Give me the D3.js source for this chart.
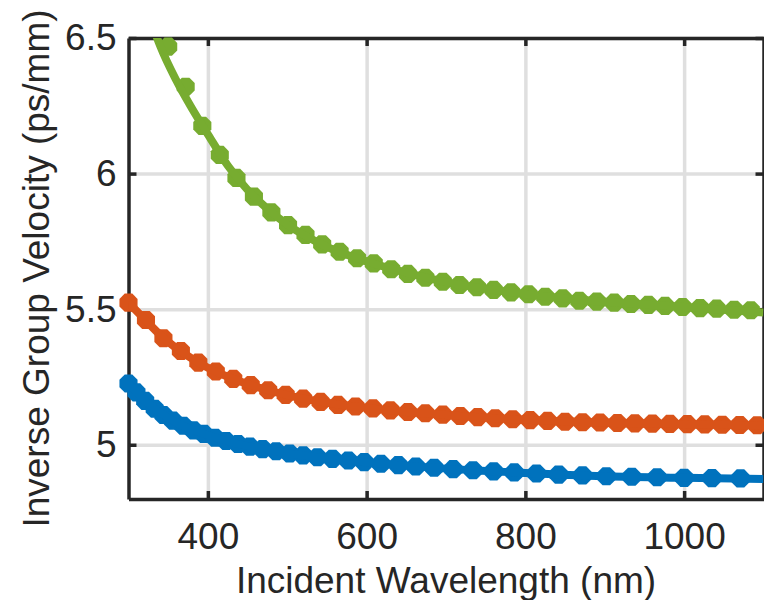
<!DOCTYPE html>
<html>
<head>
<meta charset="utf-8">
<script src="https://cdn.jsdelivr.net/npm/d3@7"></script>
<style>
  html, body { margin: 0; padding: 0; background: #ffffff; }
  svg { display: block; }
  text { font-family: "Liberation Sans", Arial, Helvetica, sans-serif; fill: #262626; }
</style>
</head>
<body>
<svg id="chart" width="764" height="600"></svg>
<script>
// Measured samples: wavelength (nm) and inverse group velocity (ps/mm)
const blueWavelength = [300, 310, 321, 333, 344, 356, 369, 382, 395, 409, 423, 438, 453, 469, 486, 503, 520, 538, 557, 577,
  597, 618, 640, 662, 685, 709, 734, 760, 786, 814, 842, 872, 902, 934, 966, 1000, 1035, 1071];
const blueValues = [5.226, 5.193, 5.162, 5.133, 5.110, 5.089, 5.070, 5.053, 5.040, 5.026, 5.014, 5.003, 4.993, 4.984, 4.976, 4.968, 4.961, 4.954, 4.948, 4.942,
  4.936, 4.930, 4.925, 4.920, 4.915, 4.910, 4.906, 4.902, 4.898, 4.894, 4.890, 4.887, 4.884, 4.882, 4.880, 4.878, 4.877, 4.876];

const orangeWavelength = [300, 322, 344, 366, 388, 410, 432, 454, 476, 498, 520, 542, 564, 586, 608, 630, 652, 674, 696, 718,
  740, 762, 784, 806, 828, 850, 872, 894, 916, 938, 960, 982, 1004, 1026, 1048, 1070, 1092];
const orangeValues = [5.524, 5.460, 5.393, 5.346, 5.303, 5.270, 5.243, 5.220, 5.201, 5.184, 5.170, 5.158, 5.147, 5.141, 5.134, 5.127, 5.121, 5.116, 5.111, 5.106,
  5.102, 5.098, 5.094, 5.091, 5.088, 5.085, 5.083, 5.082, 5.080, 5.079, 5.078, 5.077, 5.076, 5.075, 5.074, 5.073, 5.072];

const greenWavelength = [350, 372, 393, 415, 436, 458, 480, 501, 523, 544, 566, 588, 609, 631, 652, 674, 696, 717, 739, 760,
  782, 804, 825, 847, 868, 890, 912, 933, 955, 976, 998, 1020, 1041, 1063, 1084];
const greenValues = [6.468, 6.320, 6.176, 6.069, 5.984, 5.915, 5.857, 5.810, 5.774, 5.739, 5.712, 5.688, 5.669, 5.647, 5.630, 5.616, 5.601, 5.589, 5.581, 5.571,
  5.562, 5.555, 5.546, 5.540, 5.531, 5.528, 5.524, 5.519, 5.516, 5.512, 5.508, 5.504, 5.502, 5.498, 5.496];

// Fitted dispersion curves
const fitWavelength = [300, 320, 340, 360, 380, 400, 425, 450, 475, 500, 550, 600, 650, 700, 800, 900, 1000, 1100];
const blueFit   = [5.226, 5.165, 5.118, 5.082, 5.056, 5.036, 5.013, 4.995, 4.981, 4.969, 4.950, 4.935, 4.923, 4.912, 4.896, 4.884, 4.878, 4.874];
const orangeFit = [5.524, 5.464, 5.405, 5.357, 5.318, 5.284, 5.251, 5.224, 5.202, 5.183, 5.155, 5.136, 5.121, 5.110, 5.092, 5.081, 5.076, 5.071];
const greenFit  = [6.850, 6.640, 6.470, 6.345, 6.240, 6.145, 6.030, 5.940, 5.870, 5.812, 5.730, 5.676, 5.635, 5.600, 5.556, 5.527, 5.508, 5.488];

const xTicks = [400, 600, 800, 1000];
const xTickLabels = ["400", "600", "800", "1000"];
const yTicks = [5, 5.5, 6, 6.5];
const yTickLabels = ["5", "5.5", "6", "6.5"];

const xLabel = "Incident Wavelength (nm)";
const yLabel = "Inverse Group Velocity (ps/mm)";

const colors = { blue: "#0072BD", orange: "#D95319", green: "#77AC30" };

const series = [
  { wl: blueWavelength, v: blueValues, fit: blueFit, color: colors.blue },
  { wl: orangeWavelength, v: orangeValues, fit: orangeFit, color: colors.orange },
  { wl: greenWavelength, v: greenValues, fit: greenFit, color: colors.green }
];

// Plot box
const boxLeft = 128.5, boxRight = 763.5, boxTop = 38, boxBottom = 499;
const x = d3.scaleLinear().domain([300, 1100]).range([boxLeft, boxRight]);
const y = d3.scaleLinear().domain([4.8, 6.5]).range([boxBottom, boxTop]);

const svg = d3.select("#chart");
const axisColor = "#262626";
const fontSize = 37;

svg.append("defs").append("clipPath").attr("id", "plotClip")
  .append("rect").attr("x", boxLeft).attr("y", boxTop)
  .attr("width", boxRight - boxLeft).attr("height", boxBottom - boxTop);

// Grid lines
const grid = svg.append("g").attr("class", "grid");
grid.append("g").attr("transform", `translate(0,${boxBottom})`)
  .call(d3.axisBottom(x).tickValues(xTicks).tickSize(-(boxBottom - boxTop)).tickFormat(""))
  .call(g => g.select(".domain").remove());
grid.append("g").attr("transform", `translate(${boxLeft},0)`)
  .call(d3.axisLeft(y).tickValues(yTicks).tickSize(-(boxRight - boxLeft)).tickFormat(""))
  .call(g => g.select(".domain").remove());
grid.selectAll("line").attr("stroke", "#dfdfdf").attr("stroke-width", 3.5);

// Axes with inward ticks on all four sides
const tickLen = 8;
function styleAxis(g) {
  g.select(".domain").attr("stroke", axisColor).attr("stroke-width", 3.5);
  g.selectAll(".tick line").attr("stroke", axisColor).attr("stroke-width", 3.5);
  g.selectAll(".tick text").attr("font-size", fontSize).attr("fill", axisColor);
}
svg.append("g").attr("transform", `translate(0,${boxBottom})`)
  .call(d3.axisBottom(x).tickValues(xTicks).tickSizeInner(-tickLen).tickSizeOuter(0).tickPadding(24)
    .tickFormat((d, i) => xTickLabels[i]))
  .call(styleAxis);
svg.append("g").attr("transform", `translate(0,${boxTop})`)
  .call(d3.axisTop(x).tickValues(xTicks).tickSizeInner(-tickLen).tickSizeOuter(0).tickFormat(""))
  .call(styleAxis);
svg.append("g").attr("transform", `translate(${boxLeft},0)`)
  .call(d3.axisLeft(y).tickValues(yTicks).tickSizeInner(-tickLen).tickSizeOuter(0).tickPadding(12)
    .tickFormat((d, i) => yTickLabels[i]))
  .call(styleAxis);
svg.append("g").attr("transform", `translate(${boxRight},0)`)
  .call(d3.axisRight(y).tickValues(yTicks).tickSizeInner(-tickLen).tickSizeOuter(0).tickFormat(""))
  .call(styleAxis);
svg.selectAll("g.tick text").attr("font-family", null);

// Axis titles
svg.append("text")
  .attr("x", (boxLeft + boxRight) / 2).attr("y", 593)
  .attr("text-anchor", "middle").attr("font-size", fontSize)
  .text(xLabel);
svg.append("text")
  .attr("transform", `translate(49,${(boxTop + boxBottom) / 2}) rotate(-90)`)
  .attr("text-anchor", "middle").attr("font-size", fontSize)
  .text(yLabel);

// Octagonal marker path
function octagon(r) {
  const pts = d3.range(8).map(i => {
    const a = Math.PI / 8 + i * Math.PI / 4;
    return [r * Math.cos(a), r * Math.sin(a)];
  });
  return "M" + pts.map(p => p.join(",")).join("L") + "Z";
}
const markerPath = octagon(9.8);

const line = d3.line().curve(d3.curveMonotoneX);
const dataLayer = svg.append("g");

series.forEach(s => {
  // markers
  dataLayer.append("g").selectAll("path")
    .data(s.wl.map((w, i) => [w, s.v[i]]))
    .join("path")
    .attr("d", markerPath)
    .attr("transform", d => `translate(${x(d[0])},${y(d[1])})`)
    .attr("fill", s.color);
  // fitted curve
  dataLayer.append("path")
    .attr("clip-path", "url(#plotClip)")
    .attr("d", line(fitWavelength.map((w, i) => [x(w), y(s.fit[i])])))
    .attr("fill", "none")
    .attr("stroke", s.color)
    .attr("stroke-width", 8)
    .attr("stroke-linejoin", "round");
});
</script>
</body>
</html>
